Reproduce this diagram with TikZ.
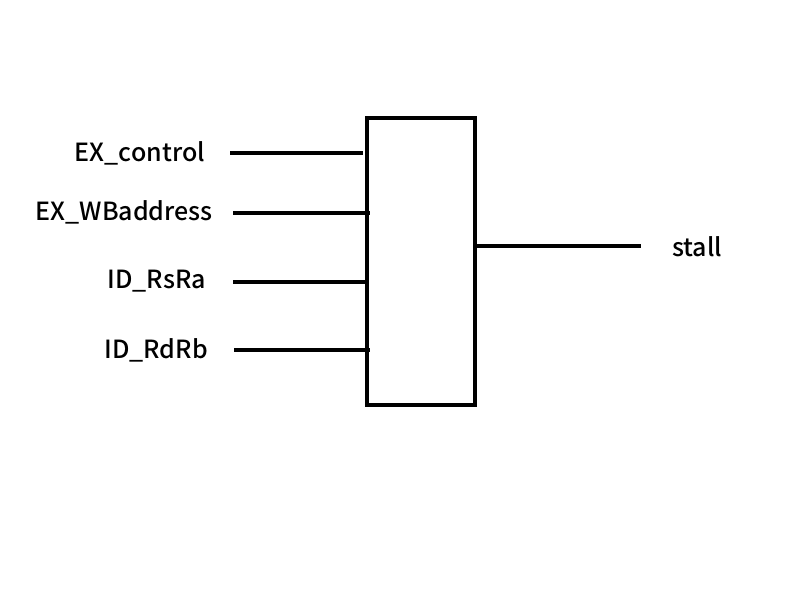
\documentclass[tikz,border=0pt]{standalone}
\usepackage{fontspec}
\setmainfont{Noto Sans CJK SC}[UprightFont=* Medium]
\usetikzlibrary{positioning}

\begin{document}
\begin{tikzpicture}[x=1pt,y=-1pt,
    wire/.style={line width=3.5pt},
    sig/.style={font=\fontsize{25}{30}\selectfont, inner sep=0pt},
    unit/.style={draw, line width=4pt, rectangle, minimum width=108pt, minimum height=287pt, inner sep=0pt}]
  \useasboundingbox (0,0) rectangle (800,600);
  \node[unit] (hz) at (421,261.5) {};
  % inputs
  \node[sig, anchor=east] (exc) at (205,153) {EX\_control};
  \node[sig, anchor=east] (exwb) at (213,212) {EX\_WBaddress};
  \node[sig, anchor=east] (idrs) at (206,281) {ID\_RsRa};
  \node[sig, anchor=east] (idrd) at (208,350) {ID\_RdRb};
  \coordinate (e1) at (363,153);
  \coordinate (e2) at (370,213);
  \coordinate (e3) at (367,282);
  \coordinate (e4) at (370,350);
  \draw[wire] ([xshift=25pt]exc.east |- e1) -- (e1);
  \draw[wire] ([xshift=20pt]exwb.east |- e2) -- (e2);
  \draw[wire] ([xshift=27pt]idrs.east |- e3) -- (e3);
  \draw[wire] ([xshift=26pt]idrd.east |- e4) -- (e4);
  % output
  \node[sig, anchor=west] (st) at (672,247) {stall};
  \draw[wire] (hz.east |- 0,246) -- ([xshift=-31pt]st.west |- 0,246);
\end{tikzpicture}
\end{document}
